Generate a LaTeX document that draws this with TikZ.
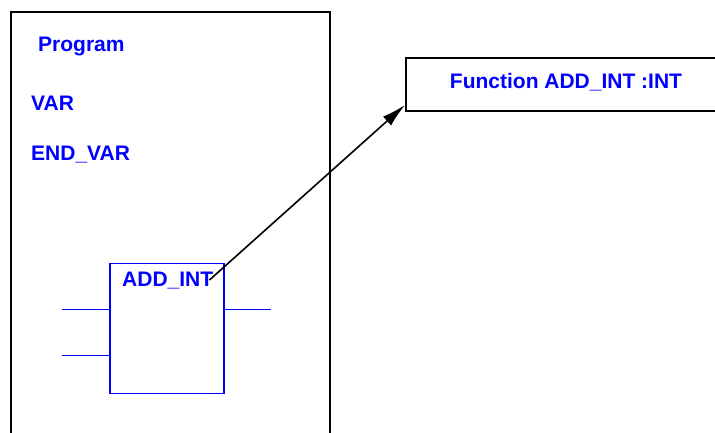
\documentclass[tikz,border=0pt]{standalone}
\usepackage{fontspec}
\setmainfont{Liberation Sans}
\usetikzlibrary{arrows.meta}
\tikzset{
  lbl/.style={text=blue, font=\fontsize{21}{24}\selectfont\bfseries, inner sep=0pt},
  frame/.style={draw=black, line width=2pt, inner sep=0pt},
  fblock/.style={draw=blue, line width=1.6pt, inner sep=0pt},
  pinline/.style={draw=blue, line width=1.6pt}
}
\begin{document}
\begin{tikzpicture}[x=1pt,y=-1pt]
\useasboundingbox (0,0) rectangle (715,432);
\clip (0,0) rectangle (715,432);
\node[frame, minimum width=319pt, minimum height=460pt] (prog) at (170.5,242) {};
\node[lbl, anchor=base west] (progname) at (38,51) {Program};
\node[lbl, anchor=base west] (var) at (31,110) {VAR};
\node[lbl, anchor=base west] (endvar) at (31,160.5) {END\_VAR};
\node[fblock, minimum width=114pt, minimum height=130pt] (addint) at (167,328.3) {};
\node[lbl, anchor=base west] (addlbl) at (122,286) {ADD\_INT};
\draw[pinline] (addint.west |- 0,309.3) -- ++(-47,0);
\draw[pinline] (addint.west |- 0,355.3) -- ++(-47,0);
\draw[pinline] (addint.east |- 0,309.3) -- ++(46,0);
\node[frame, minimum width=320pt, minimum height=53pt] (func) at (566,84.5) {};
\node[lbl] (funclbl) at (566,82) {Function ADD\_INT :INT};
\draw[line width=1.6pt, -{Latex[length=24pt,width=12pt]}] ([xshift=-4pt]addlbl.east) -- ([yshift=7pt]func.south west);
\end{tikzpicture}
\end{document}
